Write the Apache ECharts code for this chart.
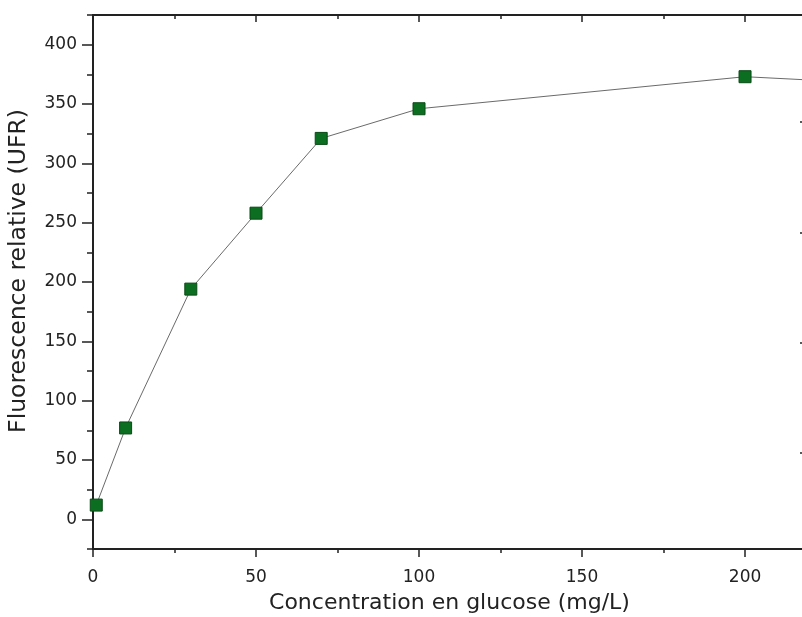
<!DOCTYPE html>
<html>
<head>
<meta charset="utf-8">
<script src="https://cdn.jsdelivr.net/npm/echarts@6/dist/echarts.min.js"></script>
<style>html,body{margin:0;padding:0;background:#fff}#c{width:802px;height:617px}</style>
</head>
<body>
<div id="c"></div>
<script>
const concentrations = [1, 10, 30, 50, 70, 100, 200, 250];
const fluorescence = [12, 77, 194, 258, 321, 346, 373, 366];
const xMajorTicks = [0, 50, 100, 150, 200];
const xMinorTicks = [25, 75, 125, 175];
const yMajorTicks = [0, 50, 100, 150, 200, 250, 300, 350, 400];
const yMinorTicks = [-25, 25, 75, 125, 175, 225, 275, 325, 375, 425];
const rightMajorTicks = [0, 1, 2, 3];
const rightMinorTicks = [-0.5, 0.5, 1.5, 2.5, 3.5];
const xTitle = 'Concentration en glucose (mg/L)';
const yTitle = 'Fluorescence relative (UFR)';

const FONT = 'DejaVu Sans, Liberation Sans, Arial, sans-serif';
const AX = '#222';
const xMin = 0, xMax = 218.7, yMin = -25, yMax = 425;

function xAx(pos, ticks, len, inside, line, labels) {
  return {
    type: 'value', position: pos, min: xMin, max: xMax,
    splitLine: {show: false},
    axisLine: {show: line, onZero: false, lineStyle: {color: AX, width: 2}},
    axisTick: {show: true, customValues: ticks, length: len, inside: inside, lineStyle: {color: AX, width: 1.5}},
    axisLabel: labels ? {show: true, customValues: ticks, color: AX, fontFamily: FONT, fontSize: 17, margin: 20} : {show: false}
  };
}
function yAx(pos, ticks, len, inside, line, labels, mn, mx) {
  return {
    type: 'value', position: pos, min: mn, max: mx,
    splitLine: {show: false},
    axisLine: {show: line, onZero: false, lineStyle: {color: AX, width: 2}},
    axisTick: {show: true, customValues: ticks, length: len, inside: inside, lineStyle: {color: AX, width: 1.5}},
    axisLabel: labels ? {show: true, customValues: ticks, color: AX, fontFamily: FONT, fontSize: 17, margin: 16} : {show: false}
  };
}

const xAxes = [
  Object.assign(xAx('bottom', xMajorTicks, 8, false, true, true), {
    name: xTitle, nameLocation: 'middle', nameGap: 43,
    nameTextStyle: {color: AX, fontFamily: FONT, fontSize: 22}
  }),
  xAx('bottom', xMinorTicks, 4, false, false, false),
  xAx('top', xMajorTicks, 7, true, true, false),
  xAx('top', xMinorTicks, 4, true, false, false)
];
const yAxes = [
  Object.assign(yAx('left', yMajorTicks, 11, false, true, true, yMin, yMax), {
    name: yTitle, nameLocation: 'middle', nameGap: 62,
    nameTextStyle: {color: AX, fontFamily: FONT, fontSize: 23.5, padding: [0, 0, 0, 22]}
  }),
  yAx('left', yMinorTicks, 6, false, false, false, yMin, yMax),
  yAx('right', rightMajorTicks, 6, true, true, false, -0.87, 3.97),
  yAx('right', rightMinorTicks, 3, true, false, false, -0.87, 3.97)
];

const chart = echarts.init(document.getElementById('c'), null, {renderer: 'canvas'});
chart.setOption({
  animation: false,
  backgroundColor: '#fff',
  grid: {left: 93, top: 15, width: 713, bottom: 68, containLabel: false, outerBoundsMode: 'none'},
  xAxis: xAxes,
  yAxis: yAxes,
  series: [{
    type: 'line',
    xAxisIndex: 0, yAxisIndex: 0,
    data: concentrations.map((c, i) => [c, fluorescence[i]]),
    symbol: 'rect', symbolSize: 12,
    showAllSymbol: true,
    clip: true,
    lineStyle: {color: '#6a6a6a', width: 1},
    itemStyle: {color: '#0b6e20', borderColor: '#0a4a16', borderWidth: 1}
  }]
});
</script>
</body>
</html>
